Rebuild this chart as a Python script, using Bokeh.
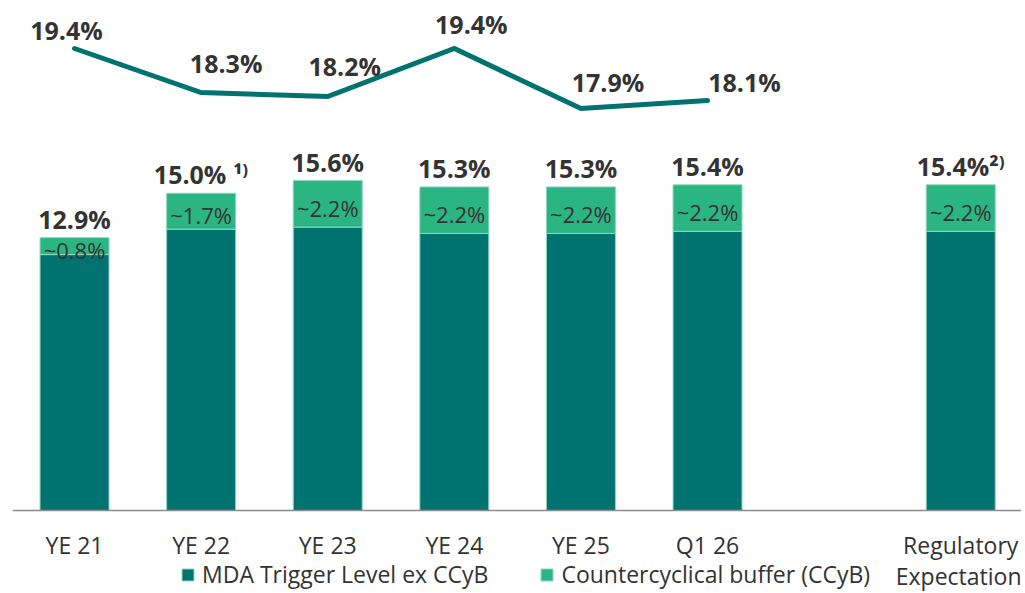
from bokeh.plotting import figure
from bokeh.models import ColumnDataSource, Range1d, FixedTicker, Legend, LegendItem, LinearAxis
from bokeh.core.properties import value
from bokeh.embed import file_html
from bokeh.resources import INLINE

# ---- data ----
categories = ["YE 21", "YE 22", "YE 23", "YE 24", "YE 25", "Q1 26", "Regulatory\nExpectation"]
slots = [0, 1, 2, 3, 4, 5, 7]          # category slots (one empty slot before the last)
mda = [12.1, 13.3, 13.4, 13.1, 13.1, 13.2, 13.2]
ccyb = [0.8, 1.7, 2.2, 2.2, 2.2, 2.2, 2.2]
totals = [12.9, 15.0, 15.6, 15.3, 15.3, 15.4, 15.4]
total_labels = ["12.9%", "15.0% \u00b9\u207e", "15.6%", "15.3%", "15.3%", "15.4%", "15.4%\u00b2\u207e"]
ccyb_labels = ["~0.8%", "~1.7%", "~2.2%", "~2.2%", "~2.2%", "~2.2%", "~2.2%"]

cet1_slots = [0, 1, 2, 3, 4, 5]
cet1 = [19.4, 18.3, 18.2, 19.4, 17.9, 18.1]
cet1_labels = ["19.4%", "18.3%", "18.2%", "19.4%", "17.9%", "18.1%"]

# label placement (style only)
cet1_dx = [-8, 25, 17, 17, 27, 37]
cet1_dy = [-19, -30, -31, -25, -27, -19]

TEAL = "#007370"
GREEN = "#2BB583"
TXT = "#333333"
FONT = "Open Sans"

bar_src = ColumnDataSource(dict(x=slots, mda=mda, totals=totals, zero=[0] * len(slots),
                                tl=total_labels, cl=ccyb_labels,
                                cmid=[m + c / 2 for m, c in zip(mda, ccyb)]))
line_src = ColumnDataSource(dict(x=cet1_slots, y=cet1, lab=cet1_labels, dx=cet1_dx, dy=cet1_dy))

p = figure(width=1021, height=592, output_backend="svg", toolbar_location=None,
           x_range=Range1d(-0.49, 7.48), y_range=Range1d(-3.877, 23.735),
           y_axis_location=None, x_axis_location=None,
           min_border_left=12, min_border_right=0, min_border_top=8, min_border_bottom=0)
p.extra_y_ranges = {"cet1": Range1d(5.80, 20.40)}
p.outline_line_color = None
p.grid.visible = False
p.background_fill_color = "white"
p.border_fill_color = "white"

r_mda = p.vbar(x="x", bottom="zero", top="mda", width=0.545, source=bar_src,
               fill_color=TEAL, line_color="#8fd6c0", line_width=1)
r_ccyb = p.vbar(x="x", bottom="mda", top="totals", width=0.545, source=bar_src,
                fill_color=GREEN, line_color="#8fd6c0", line_width=1)

p.text(x="x", y="totals", text="tl", source=bar_src, text_align="center",
       text_baseline="bottom", y_offset=-2, text_font=value(FONT),
       text_font_size="25px", text_font_style="bold", text_color=TXT)
p.text(x="x", y="cmid", text="cl", source=bar_src, text_align="center",
       text_baseline="middle", y_offset=4, text_font=value(FONT),
       text_font_size="22px", text_color=TXT)

p.line(x="x", y="y", source=line_src, y_range_name="cet1", line_width=5,
       line_color=TEAL, line_cap="round", line_join="miter")
p.text(x="x", y="y", text="lab", source=line_src, y_range_name="cet1",
       x_offset="dx", y_offset="dy", text_align="center", text_baseline="middle",
       text_font=value(FONT), text_font_size="25px", text_font_style="bold",
       text_color=TXT)


def style_axis(a, standoff):
    a.ticker = FixedTicker(ticks=slots)
    a.major_tick_line_color = None
    a.minor_tick_line_color = None
    a.major_label_text_font = FONT
    a.major_label_text_font_size = "23px"
    a.major_label_text_color = TXT
    a.major_label_standoff = standoff


first_lines = [c.split("\n")[0] for c in categories]
second_lines = [c.split("\n")[1] if "\n" in c else "" for c in categories]

ax = LinearAxis(fixed_location=0)
p.add_layout(ax, "below")
style_axis(ax, 12)
ax.major_label_overrides = {s: c for s, c in zip(slots, first_lines)}
ax.axis_line_color = "#8c8c8c"
ax.axis_line_width = 1.5

ax2 = LinearAxis(fixed_location=0)
p.add_layout(ax2, "below")
style_axis(ax2, 43)
ax2.major_label_overrides = {s: c for s, c in zip(slots, second_lines)}
ax2.axis_line_color = None

legend = Legend(items=[LegendItem(label="MDA Trigger Level ex CCyB", renderers=[r_mda]),
                       LegendItem(label="Countercyclical buffer (CCyB)", renderers=[r_ccyb])],
                orientation="horizontal", location=(168, 2), padding=0, margin=0,
                spacing=51, border_line_color=None, background_fill_alpha=0,
                label_text_font=FONT, label_text_font_size="23px", label_text_color=TXT,
                glyph_width=15, glyph_height=15, label_standoff=7)
p.add_layout(legend, "center")

open("out.html", "w").write(file_html(p, INLINE))
